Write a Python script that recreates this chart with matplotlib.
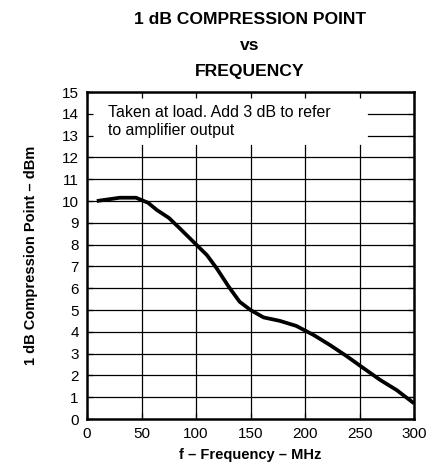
import numpy as np
import matplotlib
matplotlib.use("Agg")
import matplotlib.pyplot as plt

plt.rcParams['font.family'] = ['Liberation Sans', 'DejaVu Sans']

# curve
freq_mhz = [9, 30, 45, 56, 64, 75, 85, 99, 110, 119, 130, 140, 150, 162,
            177, 192, 208, 223, 238, 254, 269, 284, 300]
p1db = [10.0, 10.15, 10.15, 9.92, 9.59, 9.23, 8.75, 8.06, 7.52, 6.91, 6.07,
        5.38, 5.0, 4.66, 4.5, 4.27, 3.85, 3.39, 2.89, 2.32, 1.79, 1.33, 0.72]

xticks = [0, 50, 100, 150, 200, 250, 300]
yticks = list(range(0, 16))

note_lines = ["Taken at load. Add 3 dB to refer", "to amplifier output"]

fig = plt.figure(figsize=(4.46, 4.73), dpi=100)
ax = fig.add_axes([87/446, 1-419/473, 327/446, 327/473])

ax.set_xlim(0, 300)
ax.set_ylim(0, 15)

# grid, left open where the note sits
for xv in xticks[1:-1]:
    ax.plot([xv, xv], [0, 12.55], color="black", lw=0.9, zorder=1)
for yv in yticks[1:-1]:
    if yv <= 12:
        ax.plot([0, 300], [yv, yv], color="black", lw=0.9, zorder=1)
    else:
        ax.plot([258, 300], [yv, yv], color="black", lw=0.9, zorder=1)

ax.plot(freq_mhz, p1db, color="black", lw=2.7, zorder=3,
        solid_capstyle="butt")

ax.text(19, 13.85, note_lines[0], fontsize=11.4, va="baseline", ha="left")
ax.text(19, 13.03, note_lines[1], fontsize=11.4, va="baseline", ha="left")

ax.set_xticks(xticks)
ax.set_yticks(yticks)
ax.tick_params(direction="in", length=4, width=0.9, top=True, right=True,
               labelsize=11, pad=6)
for s in ax.spines.values():
    s.set_linewidth(1.8)

ax.set_xlabel("f – Frequency – MHz", fontsize=10.5, fontweight="bold",
              labelpad=5)
ax.set_ylabel("1 dB Compression Point – dBm", fontsize=10.5,
              fontweight="bold", labelpad=17)

fig.text(250/446, 1-24/473, "1 dB COMPRESSION POINT", ha="center",
         va="baseline", fontsize=12.6, fontweight="bold")
fig.text(250/446, 1-50/473, "vs", ha="center", va="baseline",
         fontsize=12.6, fontweight="bold")
fig.text(250/446, 1-76/473, "FREQUENCY", ha="center", va="baseline",
         fontsize=12.6, fontweight="bold")

fig.savefig("out.png", dpi=100)
plt.close(fig)
